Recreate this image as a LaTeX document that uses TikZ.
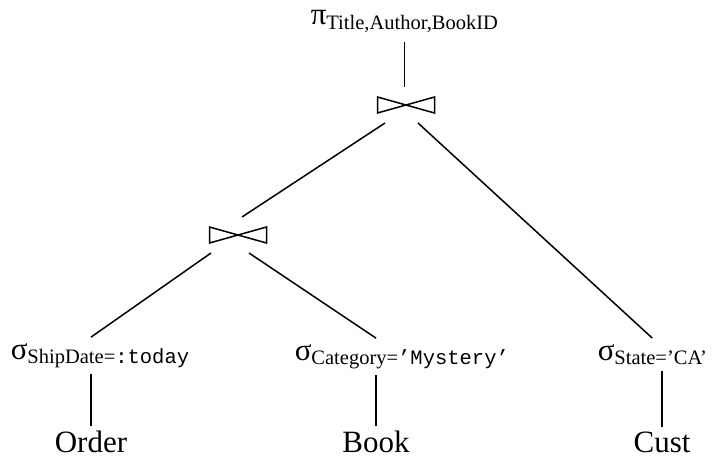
\documentclass[tikz,border=0pt]{standalone}
\usepackage{fontspec}
\setmainfont{Liberation Serif}
\setmonofont{Liberation Mono}
\newcommand{\lowsub}[1]{\raisebox{-4.5pt}{\fontsize{20.5}{24}\selectfont #1}}

\begin{document}
\begin{tikzpicture}[x=1pt, y=-1pt, line width=1.5pt,
  every node/.style={inner sep=0pt, font=\fontsize{31}{36}\selectfont},
  rel/.style={anchor=base, outer ysep=4pt},
  sel/.style={anchor=base west, outer ysep=6pt, font=\fontsize{31}{36}\selectfont},
  joinop/.style={minimum width=59pt, minimum height=18pt, outer ysep=9pt,
    path picture={\draw[line width=1.5pt]
      ([shift={(1pt,-1pt)}]path picture bounding box.north west) --
      ([shift={(-1pt,1pt)}]path picture bounding box.south east) --
      ([shift={(-1pt,-1pt)}]path picture bounding box.north east) --
      ([shift={(1pt,1pt)}]path picture bounding box.south west) -- cycle;}}]
\useasboundingbox (0,0) rectangle (714,460);

% Projection
\node[sel, outer ysep=9pt] (proj) at (310,25) {π\lowsub{Title,Author,BookID}};

% Joins
\node[joinop] (j1) at (406,105) {};
\node[joinop] (j2) at (238,235) {};

% Selections
\node[sel] (sel1) at (10,359) {σ\lowsub{ShipDate=\texttt{:today}}};
\node[sel] (sel2) at (294,360) {σ\lowsub{Category=\texttt{’Mystery’}}};
\node[sel] (sel3) at (597,360) {σ\lowsub{State='CA'}};

% Relations
\node[rel] (ord) at (91,452) {Order};
\node[rel] (book) at (376,452) {Book};
\node[rel] (cust) at (662,452) {Cust};

% Edges
\draw (proj.south) -- (proj.south |- j1.north);
\draw ([xshift=-21pt]j1.south) -- ([xshift=4pt]j2.north);
\draw ([xshift=12pt]j1.south) -- (sel3.north);
\draw ([xshift=-27pt]j2.south) -- (sel1.north -| ord.north);
\draw ([xshift=11pt]j2.south) -- (sel2.north -| book.north);
\foreach \r/\s in {ord/sel1, book/sel2, cust/sel3}
  \draw (\r.north) -- (\r.north |- \s.south);
\end{tikzpicture}
\end{document}
